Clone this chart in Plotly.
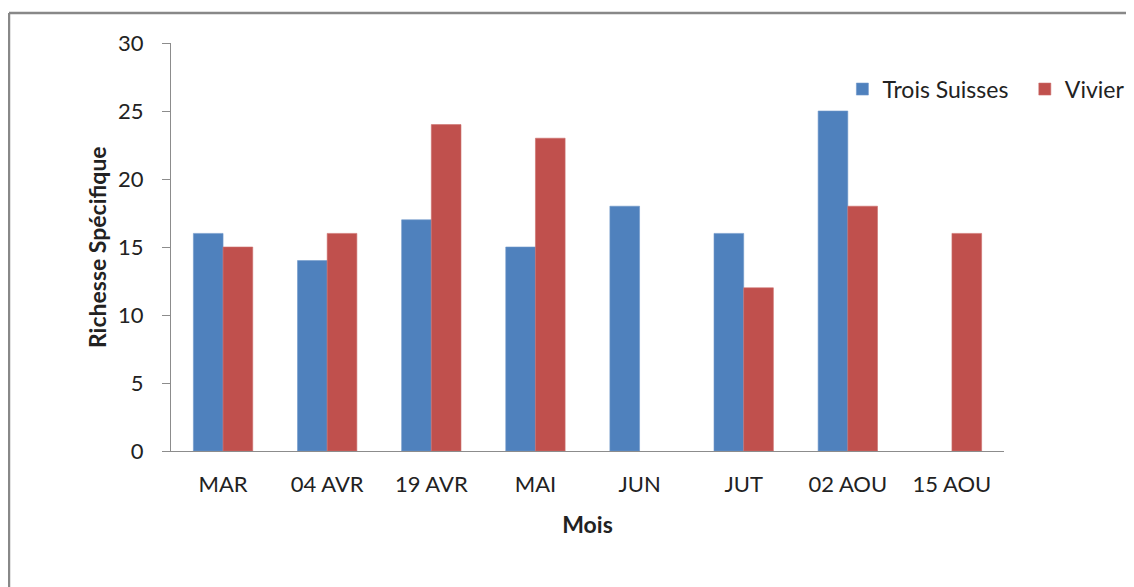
import plotly.graph_objects as go

categories = ["MAR", "04 AVR", "19 AVR", "MAI", "JUN", "JUT", "02 AOU", "15 AOU"]
trois_suisses = [16, 14, 17, 15, 18, 16, 25, None]
vivier = [15, 16, 24, 23, None, 12, 18, 16]
y_ticks = [0, 5, 10, 15, 20, 25, 30]

FONT = "Lato, 'Open Sans', sans-serif"

fig = go.Figure()
fig.add_trace(go.Bar(x=categories, y=trois_suisses, name="Trois Suisses", legend="legend",
                     marker=dict(color="#4F81BD", line=dict(color="#6E97CA", width=0.6))))
fig.add_trace(go.Bar(x=categories, y=vivier, name="Vivier", legend="legend2",
                     marker=dict(color="#C0504D", line=dict(color="#CC6E6B", width=0.6))))

legend_common = dict(orientation="h", xanchor="left", y=0.887, yanchor="middle",
                     font=dict(size=23), itemwidth=30, bgcolor="rgba(0,0,0,0)")

fig.update_layout(
    width=1134, height=587,
    margin=dict(l=163, r=138, t=35, b=144),
    paper_bgcolor="white", plot_bgcolor="white",
    barmode="group", bargap=0.43, bargroupgap=0,
    font=dict(family=FONT, size=22, color="#222222"),
    showlegend=True,
    legend=dict(x=0.806, **legend_common),
    legend2=dict(x=1.025, **legend_common),
    xaxis=dict(showline=True, linecolor="#8C8C8C", linewidth=1, ticks="",
               tickfont=dict(size=22), showgrid=False, ticklabelstandoff=14,
               title=dict(text="<b>Mois</b>", font=dict(size=23), standoff=20)),
    yaxis=dict(range=[0, 30], tickvals=y_ticks, showline=True, linecolor="#8C8C8C",
               linewidth=1, ticks="outside", ticklen=8, tickcolor="#8C8C8C",
               showgrid=False, zeroline=False, tickfont=dict(size=22),
               ticklabelstandoff=14),
    annotations=[
        dict(text="<b>Richesse Spécifique</b>", xref="paper", yref="paper",
             x=-0.0888, y=0.5, xanchor="center", yanchor="middle", textangle=-90,
             showarrow=False, font=dict(size=23, color="#222222")),
    ],
    shapes=[
        dict(type="line", xref="paper", yref="paper", x0=-0.1945, x1=1.2, y0=1.0735, y1=1.0735,
             line=dict(color="#888888", width=2.5)),
        dict(type="line", xref="paper", yref="paper", x0=-0.1945, x1=-0.1945, y0=1.0735, y1=-0.4,
             line=dict(color="#888888", width=2.5)),
    ],
)

fig.write_html("out.html")
